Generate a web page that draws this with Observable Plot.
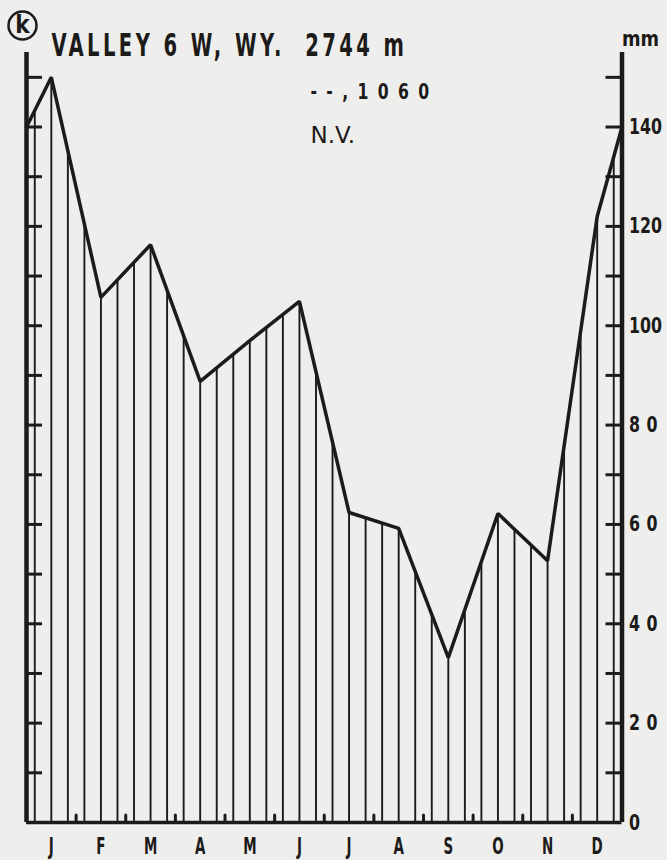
<!DOCTYPE html>
<html>
<head>
<meta charset="utf-8">
<script src="https://cdn.jsdelivr.net/npm/d3@7"></script>
<script src="https://cdn.jsdelivr.net/npm/@observablehq/plot@0.6"></script>
<style>
  html, body { margin: 0; padding: 0; background: #eeeeec; }
  #chart { width: 667px; height: 860px; }
</style>
</head>
<body>
<div id="chart"></div>
<script>
// ---- data ----
const months = ["J", "F", "M", "A", "M", "J", "J", "A", "S", "O", "N", "D"];
const precipitation = [150, 105.7, 116.3, 88.8, 97, 104.9, 62.4, 59.2, 33.2, 62.2, 52.7, 122];
const wrapValue = 140;               // value where the curve meets both side axes
const tickValues = [10, 20, 30, 40, 50, 60, 70, 80, 90, 100, 110, 120, 130, 140, 150];
const labelValues = [0, 20, 40, 60, 80, 100, 120, 140];
const titleText = "VALLEY 6 W, WY.  2744 m";
const stationNote = "--,1060";
const stationNote2 = "N.V.";
const unitLabel = "mm";
const panelLetter = "k";

// ---- derived tables ----
const points = [{x: 0, v: wrapValue}]
  .concat(months.map((m, i) => ({x: i + 0.5, v: precipitation[i]})))
  .concat([{x: 12, v: wrapValue}]);
function valueAt(x) {
  for (let j = 0; j < points.length - 1; j++) {
    const a = points[j], b = points[j + 1];
    if (x >= a.x && x <= b.x) return a.v + (b.v - a.v) * (x - a.x) / (b.x - a.x);
  }
  return 0;
}
const hatches = [];
months.forEach((m, i) => [1, 3, 5].forEach(k => {
  const x = i + k / 6;
  hatches.push({x, v: valueAt(x)});
}));
const monthBounds = d3.range(1, 12);

// ---- layout ----
const W = 667, H = 860, mL = 26, mR = 45.5, mT = 52, mB = 38;
const innerW = W - mL - mR, innerH = H - mT - mB;
const ink = "#1d1a1a";
const cond = "'Liberation Sans Narrow', 'DejaVu Sans Condensed', 'Arial Narrow', sans-serif";
const bold = "bold";

const chart = Plot.plot({
  width: W, height: H,
  marginLeft: mL, marginRight: mR, marginTop: mT, marginBottom: mB,
  x: {domain: [0, 12], axis: null},
  y: {domain: [0, 155], axis: null},
  style: {background: "transparent", color: ink, fontFamily: cond, overflow: "visible"},
  marks: [
    Plot.ruleX(hatches, {x: "x", y1: 0, y2: "v", stroke: ink, strokeWidth: 1.9}),
    Plot.ruleX(monthBounds, {insetTop: innerH - 7, stroke: ink, strokeWidth: 3, strokeLinecap: "round"}),
    Plot.ruleY(tickValues, {insetRight: innerW - 16, stroke: ink, strokeWidth: 3}),
    Plot.ruleY(tickValues, {insetLeft: innerW - 16, stroke: ink, strokeWidth: 3}),
    Plot.ruleX([0, 12], {stroke: ink, strokeWidth: 4.5}),
    Plot.ruleY([0], {stroke: ink, strokeWidth: 3.5}),
    Plot.line(points, {x: "x", y: "v", stroke: ink, strokeWidth: 3.5, strokeLinejoin: "miter"}),
    // right-hand value labels
    Plot.text(labelValues, {y: d => d, text: d => String(d), frameAnchor: "right", textAnchor: "start", dx: 7,
      fontSize: 22, fontWeight: bold, fill: ink}),
    // month letters
    Plot.text(months, {x: (d, i) => i + 0.5, text: d => d, frameAnchor: "bottom", lineAnchor: "top", dy: 15,
      fontSize: 23, fontWeight: bold, fill: ink}),
    Plot.text([unitLabel], {frameAnchor: "top-right", textAnchor: "start", lineAnchor: "bottom", dx: 0, dy: -7,
      fontSize: 22, fontWeight: bold, fill: ink}),
    Plot.text([titleText], {frameAnchor: "top-left", textAnchor: "start", lineAnchor: "bottom", dx: 25, dy: 3,
      fontSize: 32, fontWeight: bold, fill: ink}),
    Plot.dot([panelLetter], {frameAnchor: "top-left", dx: -4, dy: -27, r: 14, stroke: ink, strokeWidth: 2.5, fill: "none"}),
    Plot.text([panelLetter], {frameAnchor: "top-left", textAnchor: "middle", lineAnchor: "middle", dx: -4, dy: -27,
      fontSize: 24, fontWeight: bold, fill: ink}),
    Plot.text([stationNote], {frameAnchor: "top-left", textAnchor: "start", lineAnchor: "bottom", dx: 284, dy: 46,
      fontSize: 20.5, fontWeight: bold, fill: ink}),
    Plot.text([stationNote2], {frameAnchor: "top-left", textAnchor: "start", lineAnchor: "bottom", dx: 284, dy: 90,
      fontSize: 23, fontFamily: "'DejaVu Sans', sans-serif", fill: ink})
  ]
});
document.getElementById("chart").appendChild(chart);

// typographic touches: narrow, spaced lettering as in the original
function squeeze(el, sx) {
  const x = +el.getAttribute("x") || 0, y = +el.getAttribute("y") || 0;
  const t = el.getAttribute("transform") || "";
  el.setAttribute("transform", `${t} translate(${x},${y}) scale(${sx},1) translate(${-x},${-y})`);
}
const labelSet = new Set(labelValues.map(String));
const monthSet = new Set(months);
d3.select(chart).selectAll("text").each(function () {
  const s = this.textContent;
  if (s === titleText) {
    this.style.whiteSpace = "pre"; this.style.letterSpacing = "5px"; squeeze(this, 0.68);
  } else if (s === stationNote) {
    this.style.letterSpacing = "11px"; squeeze(this, 0.85);
  } else if (labelSet.has(s)) {
    if (s.length === 2) this.style.letterSpacing = "8px";
    squeeze(this, 0.8);
  } else if (monthSet.has(s)) {
    squeeze(this, 0.65);
  } else if (s === unitLabel) {
    squeeze(this, 0.9);
  }
});
</script>
</body>
</html>
